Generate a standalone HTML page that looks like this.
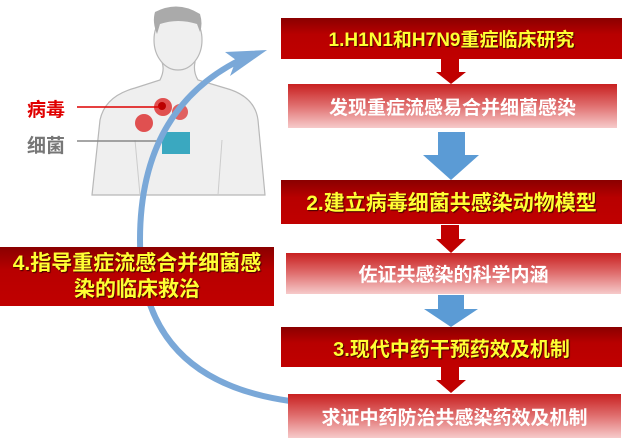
<!DOCTYPE html>
<html><head><meta charset="utf-8"><style>
body{margin:0;width:622px;height:438px;background:#fff;position:relative;overflow:hidden;font-family:"Liberation Sans","Noto Sans CJK SC",sans-serif;}
.b{position:absolute;display:flex;align-items:center;justify-content:center;font-weight:bold;white-space:nowrap;}
.dark{background:linear-gradient(180deg,#8a0000 0%,#b80000 40%,#c00000 100%);color:#ffff33;font-size:20px;text-shadow:1px 1px 1px #400;}
.pink{background:linear-gradient(180deg,#c82020 0%,#e07070 50%,#f6caca 100%);color:#fff;font-size:19px;}
</style></head><body>
<svg width="622" height="438" style="position:absolute;left:0;top:0">
<g fill="#efefef" stroke="#b8b8b8" stroke-width="1.2">
<path d="M92,195 L100,120 Q105,96 135,88 L160,80 Q165,70 162,62 L195,62 Q193,72 198,80 L225,88 Q255,96 258,120 L265,195 Z"/>
<ellipse cx="178" cy="40" rx="24" ry="30"/>
</g>
<path d="M155,12 Q178,0 200,14 Q203,24 200,32 L197,24 Q178,18 160,24 L157,34 Q152,22 155,12Z" fill="#aaa"/>
<line x1="135" y1="140" x2="140" y2="195" stroke="#ccc"/>
<line x1="222" y1="140" x2="218" y2="195" stroke="#ccc"/>
<circle cx="163" cy="107" r="9" fill="#e05050"/><circle cx="162" cy="106" r="4" fill="#b00"/>
<circle cx="180" cy="112" r="8" fill="#e06060"/>
<circle cx="144" cy="123" r="9" fill="#e05050"/>
<rect x="162" y="132" width="28" height="22" fill="#3aa8c0"/>
<line x1="77" y1="107" x2="160" y2="107" stroke="#d00" stroke-width="1.5"/>
<line x1="77" y1="141" x2="158" y2="141" stroke="#888" stroke-width="1.5"/>
<path d="M290,401 Q140,380 140,240 Q140,110 240,60" fill="none" stroke="#7aa8d8" stroke-width="6"/>
<polygon points="267,50 225,52 236,60 230,76" fill="#7aa8d8"/>
<g fill="#c00000">
<polygon points="441,59 459,59 459,72 466,72 451,84 436,72 441,72"/>
<polygon points="441,225 459,225 459,239 466,239 451,253 436,239 441,239"/>
<polygon points="441,367 459,367 459,380 466,380 451,393 436,380 441,380"/>
</g>
<g fill="#5b9bd5">
<polygon points="438,132 465,132 465,155 479,155 451,180 423,155 438,155"/>
<polygon points="438,295 464,295 464,309 478,309 451,327 424,309 438,309"/>
</g>
</svg>
<div class="b" style="left:27px;top:95px;font-size:19px;color:#e00000;">病毒</div>
<div class="b" style="left:27px;top:131px;font-size:19px;color:#777;">细菌</div>
<div class="b dark" style="left:281px;top:18px;width:341px;height:41px;font-size:19px;">1.H1N1和H7N9重症临床研究</div>
<div class="b pink" style="left:288px;top:84px;width:329px;height:44px;">发现重症流感易合并细菌感染</div>
<div class="b dark" style="left:281px;top:180px;width:341px;height:44px;font-size:21px;">2.建立病毒细菌共感染动物模型</div>
<div class="b pink" style="left:286px;top:253px;width:335px;height:41px;">佐证共感染的科学内涵</div>
<div class="b dark" style="left:281px;top:327px;width:341px;height:40px;">3.现代中药干预药效及机制</div>
<div class="b pink" style="left:288px;top:394px;width:333px;height:44px;">求证中药防治共感染药效及机制</div>
<div class="b dark" style="left:0;top:247px;width:274px;height:59px;text-align:center;line-height:26px;font-size:21px;">4.指导重症流感合并细菌感<br>染的临床救治</div>
</body></html>
